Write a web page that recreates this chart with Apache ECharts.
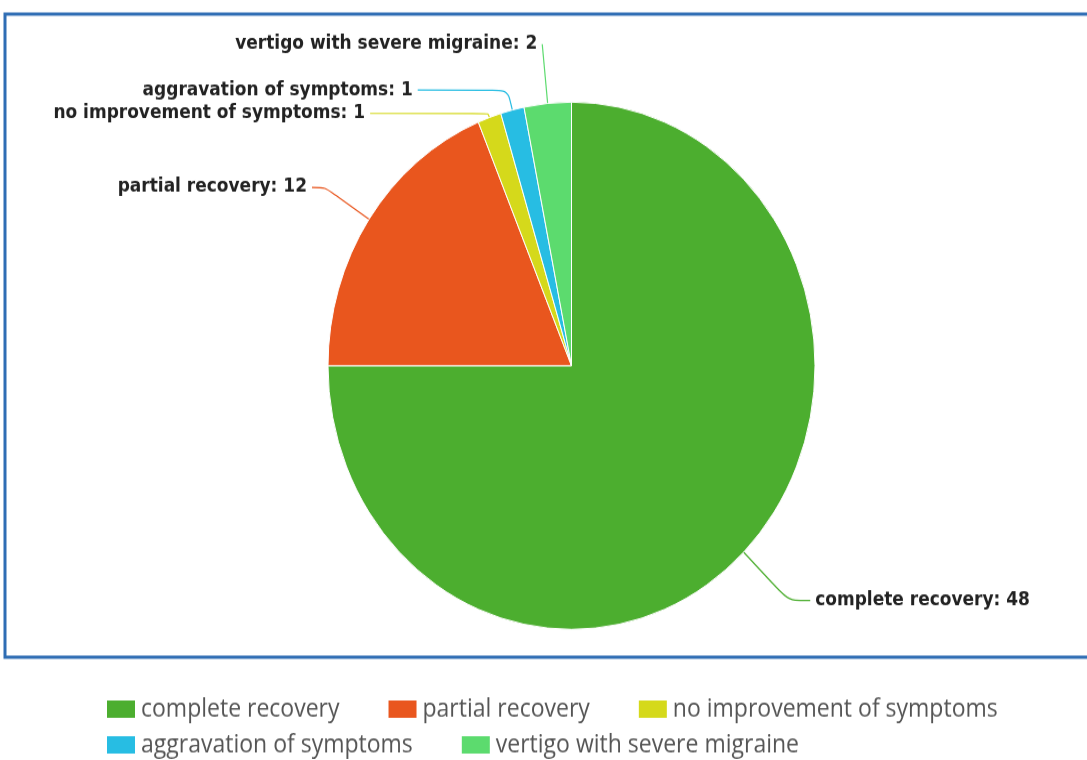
<!DOCTYPE html>
<html>
<head>
<meta charset="utf-8">
<script src="https://cdn.jsdelivr.net/npm/echarts@6/dist/echarts.min.js"></script>
<style>
  html, body { margin: 0; padding: 0; background: #ffffff; overflow: hidden; }
  #wrap { position: absolute; left: 0; top: 0; width: 1087px; height: 702px; transform: scaleY(1.08262); transform-origin: 0 0; }
  #chart { width: 1087px; height: 702px; }
</style>
</head>
<body>
<div id="wrap"><div id="chart"></div></div>
<script>
// ---- data ----
const categories = [
  'complete recovery',
  'partial recovery',
  'no improvement of symptoms',
  'aggravation of symptoms',
  'vertigo with severe migraine'
];
const counts = [48, 12, 1, 1, 2];

// ---- styles ----
const sliceColors = ['#4cae2f', '#e9561e', '#d5d91b', '#27bde3', '#5cdb6e'];
const leaderLength = [63, 53, 4, 19, 55];
const leaderLength2 = [22, 13, 118, 90, 0];

const pieData = categories.map((name, i) => ({
  name: name,
  value: counts[i],
  itemStyle: { color: sliceColors[i] },
  labelLine: { length: leaderLength[i], length2: leaderLength2[i] }
}));

const legendText = {
  fontFamily: 'Open Sans',
  fontSize: 23,
  color: '#555555'
};

const chart = echarts.init(document.getElementById('chart'), null, { renderer: 'canvas' });
chart.setOption({
  animation: false,
  backgroundColor: '#ffffff',
  graphic: [{
    type: 'rect',
    z: -10,
    shape: { x: 5, y: 13, width: 1110, height: 594 },
    style: { fill: 'none', stroke: '#2e6db4', lineWidth: 3 }
  }],
  legend: [{
    data: categories.slice(0, 3),
    left: 105,
    top: 643.5,
    padding: 0,
    itemWidth: 30,
    itemHeight: 18,
    itemGap: 47,
    icon: 'rect',
    selectedMode: false,
    textStyle: legendText
  }, {
    data: categories.slice(3),
    left: 105,
    top: 676.5,
    padding: 0,
    itemWidth: 30,
    itemHeight: 18,
    itemGap: 47,
    icon: 'rect',
    selectedMode: false,
    textStyle: legendText
  }],
  series: [{
    type: 'pie',
    center: [571.5, 337.8],
    radius: 243.5,
    startAngle: 90,
    clockwise: true,
    avoidLabelOverlap: false,
    itemStyle: { borderColor: '#ffffff', borderWidth: 1 },
    emphasis: { disabled: true },
    label: {
      show: true,
      position: 'outside',
      formatter: '{b}: {c}',
      fontFamily: 'DejaVu Sans',
      fontWeight: 'bold',
      fontSize: 17,
      color: '#222222',
      distanceToLabelLine: 5
    },
    labelLine: {
      show: true,
      smooth: 0.25,
      lineStyle: { width: 1.2 }
    },
    data: pieData
  }]
});
</script>
</body>
</html>
